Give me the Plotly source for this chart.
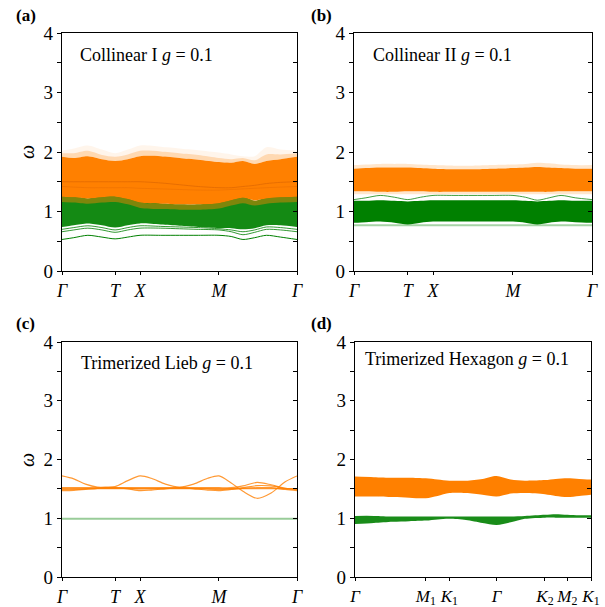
import plotly.graph_objects as go

# ---------------- data ----------------
K_SQ = [0, 0.05, 0.11, 0.17, 0.226, 0.28, 0.332, 0.42, 0.5, 0.58, 0.668, 0.72, 0.77, 0.82, 0.87, 0.93, 1.0]
SQ_TICKS = [0, 0.226, 0.332, 0.668, 1.0]
SQ_LABELS = ["<i>Γ</i>", "<i>T</i>", "<i>X</i>", "<i>M</i>", "<i>Γ</i>"]

# panel (a) Collinear I
a_low1 = [0.53, 0.56, 0.60, 0.57, 0.54, 0.57, 0.60, 0.60, 0.60, 0.60, 0.60, 0.58, 0.53, 0.56, 0.60, 0.57, 0.53]
a_low2 = [0.66, 0.69, 0.72, 0.69, 0.65, 0.69, 0.72, 0.72, 0.71, 0.70, 0.69, 0.66, 0.61, 0.65, 0.70, 0.69, 0.66]
a_low3 = [0.70, 0.73, 0.76, 0.73, 0.69, 0.73, 0.76, 0.75, 0.74, 0.73, 0.71, 0.69, 0.66, 0.69, 0.74, 0.73, 0.70]
a_green_lo = [0.74, 0.77, 0.80, 0.77, 0.73, 0.77, 0.80, 0.78, 0.76, 0.74, 0.72, 0.72, 0.70, 0.72, 0.77, 0.77, 0.74]
a_green_hi = [1.26, 1.26, 1.22, 1.26, 1.26, 1.24, 1.18, 1.14, 1.12, 1.12, 1.16, 1.24, 1.26, 1.18, 1.24, 1.26, 1.26]
a_orange_fade_lo = [1.16, 1.15, 1.13, 1.15, 1.16, 1.12, 1.06, 1.04, 1.03, 1.03, 1.05, 1.10, 1.14, 1.10, 1.13, 1.15, 1.16]
a_orange_lo = [1.25, 1.24, 1.22, 1.24, 1.25, 1.21, 1.15, 1.13, 1.12, 1.12, 1.14, 1.19, 1.23, 1.19, 1.22, 1.24, 1.25]
a_orange_hi = [1.92, 1.90, 1.93, 1.88, 1.85, 1.88, 1.93, 1.93, 1.90, 1.87, 1.83, 1.82, 1.85, 1.80, 1.85, 1.88, 1.92]
a_orange_mid = [1.98, 1.98, 2.02, 1.95, 1.92, 1.96, 2.02, 2.01, 1.98, 1.95, 1.90, 1.88, 1.90, 1.86, 1.96, 1.96, 1.98]
a_orange_faint = [2.02, 2.06, 2.11, 2.04, 1.98, 2.04, 2.11, 2.09, 2.06, 2.03, 1.99, 1.96, 1.93, 1.93, 2.08, 2.04, 2.02]
a_orange_line1 = [1.50, 1.50, 1.50, 1.50, 1.50, 1.50, 1.50, 1.48, 1.45, 1.42, 1.40, 1.40, 1.42, 1.44, 1.47, 1.49, 1.50]
a_orange_line2 = [1.42, 1.41, 1.40, 1.40, 1.40, 1.40, 1.39, 1.38, 1.37, 1.36, 1.36, 1.37, 1.38, 1.39, 1.40, 1.41, 1.42]

# panel (b) Collinear II
b_orange_faint = [1.78, 1.79, 1.80, 1.80, 1.80, 1.79, 1.78, 1.77, 1.77, 1.78, 1.79, 1.80, 1.82, 1.81, 1.79, 1.78, 1.78]
b_orange_hi = [1.72, 1.73, 1.74, 1.74, 1.74, 1.73, 1.72, 1.71, 1.71, 1.72, 1.73, 1.74, 1.75, 1.74, 1.73, 1.72, 1.72]
b_orange_lo = [1.34, 1.34, 1.33, 1.33, 1.34, 1.34, 1.33, 1.33, 1.33, 1.33, 1.33, 1.33, 1.33, 1.33, 1.34, 1.34, 1.34]
b_orange_lofaint = [1.29, 1.29, 1.29, 1.29, 1.29, 1.29, 1.29, 1.29, 1.29, 1.29, 1.29, 1.29, 1.29, 1.29, 1.29, 1.29, 1.29]
b_green_line = [1.20, 1.23, 1.27, 1.24, 1.20, 1.24, 1.27, 1.27, 1.27, 1.27, 1.27, 1.24, 1.19, 1.23, 1.27, 1.23, 1.20]
b_green_hi = [1.18, 1.18, 1.19, 1.18, 1.17, 1.18, 1.19, 1.19, 1.19, 1.19, 1.19, 1.18, 1.17, 1.18, 1.19, 1.18, 1.18]
b_green_lo = [0.81, 0.82, 0.83, 0.81, 0.78, 0.81, 0.83, 0.83, 0.83, 0.83, 0.83, 0.81, 0.78, 0.81, 0.83, 0.82, 0.81]
b_green_flat = [0.77, 0.77, 0.77, 0.77, 0.77, 0.77, 0.77, 0.77, 0.77, 0.77, 0.77, 0.77, 0.77, 0.77, 0.77, 0.77, 0.77]

# panel (c) Trimerized Lieb
K_C = [0, 0.05, 0.10, 0.15, 0.19, 0.226, 0.28, 0.332, 0.38, 0.44, 0.50, 0.56, 0.62, 0.668, 0.72, 0.77, 0.83, 0.89, 0.95, 1.0]
c_band1 = [1.72, 1.67, 1.58, 1.53, 1.53, 1.54, 1.64, 1.72, 1.68, 1.58, 1.53, 1.58, 1.68, 1.72, 1.60, 1.46, 1.34, 1.43, 1.62, 1.72]
c_band2 = [1.505, 1.505, 1.505, 1.505, 1.505, 1.505, 1.505, 1.505, 1.505, 1.505, 1.505, 1.505, 1.505, 1.505, 1.505, 1.505, 1.505, 1.505, 1.505, 1.505]
c_band3 = [1.47, 1.475, 1.49, 1.51, 1.52, 1.52, 1.50, 1.47, 1.48, 1.50, 1.52, 1.50, 1.48, 1.47, 1.49, 1.51, 1.52, 1.52, 1.49, 1.47]
c_band4 = [1.52, 1.52, 1.52, 1.52, 1.52, 1.52, 1.52, 1.52, 1.52, 1.52, 1.52, 1.52, 1.52, 1.52, 1.52, 1.55, 1.61, 1.57, 1.51, 1.50]
c_band5 = [1.49, 1.49, 1.50, 1.51, 1.51, 1.51, 1.51, 1.50, 1.50, 1.51, 1.51, 1.51, 1.50, 1.49, 1.50, 1.52, 1.555, 1.55, 1.51, 1.49]
c_green = [0.99, 0.99, 0.99, 0.99, 0.99, 0.99, 0.99, 0.99, 0.99, 0.99, 0.99, 0.99, 0.99, 0.99, 0.99, 0.99, 0.99, 0.99, 0.99, 0.99]

# panel (d) Trimerized Hexagon
K_HEX = [0, 0.08, 0.16, 0.23, 0.30, 0.35, 0.40, 0.47, 0.54, 0.60, 0.66, 0.72, 0.805, 0.85, 0.90, 0.95, 1.0]
HEX_TICKS = [0, 0.30, 0.40, 0.60, 0.805, 0.90, 1.0]
HEX_LABELS = ["<i>Γ</i>", "<i>M</i><sub>1</sub>", "<i>K</i><sub>1</sub>", "<i>Γ</i>",
              "<i>K</i><sub>2</sub>", "<i>M</i><sub>2</sub>", "<i>K</i><sub>1</sub>"]
d_orange_hi = [1.71, 1.70, 1.69, 1.69, 1.68, 1.66, 1.64, 1.64, 1.67, 1.72, 1.66, 1.64, 1.65, 1.67, 1.68, 1.67, 1.66]
d_orange_lo = [1.37, 1.37, 1.36, 1.35, 1.34, 1.38, 1.43, 1.43, 1.40, 1.37, 1.42, 1.43, 1.41, 1.38, 1.36, 1.38, 1.40]
d_green_hi = [1.04, 1.04, 1.03, 1.03, 1.03, 1.03, 1.03, 1.03, 1.03, 1.03, 1.03, 1.04, 1.06, 1.07, 1.06, 1.05, 1.05]
d_green_lo = [0.90, 0.92, 0.94, 0.95, 0.96, 0.98, 0.99, 0.97, 0.92, 0.885, 0.93, 0.99, 1.01, 1.01, 1.01, 1.01, 1.01]

TITLES = ["Collinear I <i>g</i> = 0.1", "Collinear II <i>g</i> = 0.1",
          "Trimerized Lieb <i>g</i> = 0.1", "Trimerized Hexagon <i>g</i> = 0.1"]
PANEL_TAGS = ["(a)", "(b)", "(c)", "(d)"]
Y_TICKS = [0, 0.5, 1, 1.5, 2, 2.5, 3, 3.5, 4]
Y_LABELS = ["0", " ", "1", " ", "2", " ", "3", " ", "4"]

# ---------------- style ----------------
ORANGE = "rgb(255,128,0)"
GREEN = "rgb(0,128,0)"
FONT = "Liberation Serif, Times New Roman, Times, serif"
W, H = 605, 607

fig = go.Figure()

def band(k, lo, hi, color, ax, ay):
    fig.add_trace(go.Scatter(x=k, y=lo, mode="lines", line=dict(width=0, shape="spline", smoothing=0.8),
                             xaxis=ax, yaxis=ay, showlegend=False, hoverinfo="skip"))
    fig.add_trace(go.Scatter(x=k, y=hi, mode="lines", line=dict(width=0, shape="spline", smoothing=0.8),
                             fill="tonexty", fillcolor=color,
                             xaxis=ax, yaxis=ay, showlegend=False, hoverinfo="skip"))

def line(k, y, color, width, ax, ay):
    fig.add_trace(go.Scatter(x=k, y=y, mode="lines", line=dict(color=color, width=width, shape="spline", smoothing=0.8),
                             xaxis=ax, yaxis=ay, showlegend=False, hoverinfo="skip"))

# (a)
line(K_SQ, a_low1, GREEN, 1, "x", "y")
line(K_SQ, a_low2, "rgba(0,128,0,0.8)", 1, "x", "y")
line(K_SQ, a_low3, "rgba(0,128,0,0.8)", 1, "x", "y")
band(K_SQ, a_green_lo, a_green_hi, "rgba(0,128,0,0.92)", "x", "y")
band(K_SQ, a_orange_fade_lo, a_orange_lo, "rgba(255,128,0,0.45)", "x", "y")
band(K_SQ, a_orange_lo, a_orange_hi, ORANGE, "x", "y")
band(K_SQ, a_orange_hi, a_orange_mid, "rgba(255,128,0,0.3)", "x", "y")
band(K_SQ, a_orange_mid, a_orange_faint, "rgba(255,128,0,0.08)", "x", "y")
line(K_SQ, a_orange_line1, "rgba(225,105,0,0.8)", 1, "x", "y")
line(K_SQ, a_orange_line2, "rgba(235,112,0,0.6)", 1, "x", "y")

# (b)
line(K_SQ, b_green_flat, "rgba(0,128,0,0.35)", 2, "x2", "y2")
band(K_SQ, b_green_lo, b_green_hi, GREEN, "x2", "y2")
line(K_SQ, b_green_line, "rgba(0,128,0,0.75)", 1, "x2", "y2")
band(K_SQ, b_orange_lofaint, b_orange_lo, "rgba(255,128,0,0.2)", "x2", "y2")
band(K_SQ, b_orange_lo, b_orange_hi, ORANGE, "x2", "y2")
band(K_SQ, b_orange_hi, b_orange_faint, "rgba(255,128,0,0.2)", "x2", "y2")

# (c)
line(K_C, c_green, "rgba(0,128,0,0.4)", 2, "x3", "y3")
for arr in (c_band1, c_band2, c_band3, c_band4, c_band5):
    line(K_C, arr, "rgba(255,128,0,0.8)", 1.2, "x3", "y3")

# (d)
band(K_HEX, d_green_lo, d_green_hi, "rgba(0,128,0,0.9)", "x4", "y4")
band(K_HEX, d_orange_lo, d_orange_hi, ORANGE, "x4", "y4")

# right-side (inside) tick axes: dummy empty traces so the axes draw
for i, yname in enumerate(["y5", "y6", "y7", "y8"]):
    fig.add_trace(go.Scatter(x=[None], y=[None], xaxis=["x", "x2", "x3", "x4"][i], yaxis=yname,
                             showlegend=False, hoverinfo="skip"))

# ---------------- layout ----------------
xd = [[62 / W, 297 / W], [354 / W, 592 / W], [62 / W, 297 / W], [355 / W, 591 / W]]
yd = [[1 - 271 / H, 1 - 33 / H], [1 - 271 / H, 1 - 33 / H], [1 - 577 / H, 1 - 342 / H], [1 - 577 / H, 1 - 342 / H]]

layout = dict(template="none", width=W, height=H, margin=dict(l=0, r=0, t=0, b=0, autoexpand=False),
              paper_bgcolor="white", plot_bgcolor="white",
              font=dict(family=FONT, size=17, color="black"))

for i in range(4):
    s = "" if i == 0 else str(i + 1)
    ticks = HEX_TICKS if i == 3 else SQ_TICKS
    labels = HEX_LABELS if i == 3 else SQ_LABELS
    layout["xaxis" + s] = dict(domain=xd[i], anchor="y" + s, range=[0, 1], tickvals=ticks, ticktext=labels,
                               ticks="outside", ticklen=3, tickwidth=1, tickcolor="black", tickangle=0,
                               showline=True, linecolor="black", linewidth=1.2, mirror=True, automargin=False,
                               showgrid=False, zeroline=False,
                               tickfont=dict(size=17 if i == 3 else 18, family=FONT))
    layout["yaxis" + s] = dict(domain=yd[i], anchor="x" + s, range=[0, 4], tickvals=Y_TICKS, ticktext=Y_LABELS,
                               ticks="outside", ticklen=4, tickwidth=1, tickcolor="black", automargin=False,
                               showline=True, linecolor="black", linewidth=1.2, mirror=True,
                               showgrid=False, zeroline=False, tickfont=dict(size=19, family=FONT))
    layout["yaxis" + str(i + 5)] = dict(overlaying="y" + s, anchor="x" + s, side="right", range=[0, 4],
                                        tickvals=Y_TICKS, showticklabels=False, ticks="inside", ticklen=4,
                                        tickwidth=1, tickcolor="black", showline=False, showgrid=False,
                                        zeroline=False, automargin=False)

fig.update_layout(**layout)

ann = []
tx = [78, 371, 79, 363]
ty = [55, 55, 363, 359]
for i in range(4):
    ann.append(dict(x=tx[i] / W, y=1 - ty[i] / H, xref="paper", yref="paper", text=TITLES[i],
                    showarrow=False, xanchor="left", yanchor="middle", font=dict(size=18, family=FONT)))
px = [14, 309, 14, 309]
py = [15, 15, 323, 323]
for i in range(4):
    ann.append(dict(x=px[i] / W, y=1 - py[i] / H, xref="paper", yref="paper", text="<b>" + PANEL_TAGS[i] + "</b>",
                    showarrow=False, xanchor="left", yanchor="middle", font=dict(size=17, family=FONT)))
for yy in (152, 460):
    ann.append(dict(x=27 / W, y=1 - yy / H, xref="paper", yref="paper", text="<i>ω</i>", textangle=-90,
                    showarrow=False, xanchor="center", yanchor="middle", font=dict(size=20, family=FONT)))
fig.update_layout(annotations=ann)

fig.write_html("out.html", config={"displayModeBar": False},
               post_script="document.body.style.margin='0';document.body.style.padding='0';"
                           "document.documentElement.style.overflow='hidden';")
